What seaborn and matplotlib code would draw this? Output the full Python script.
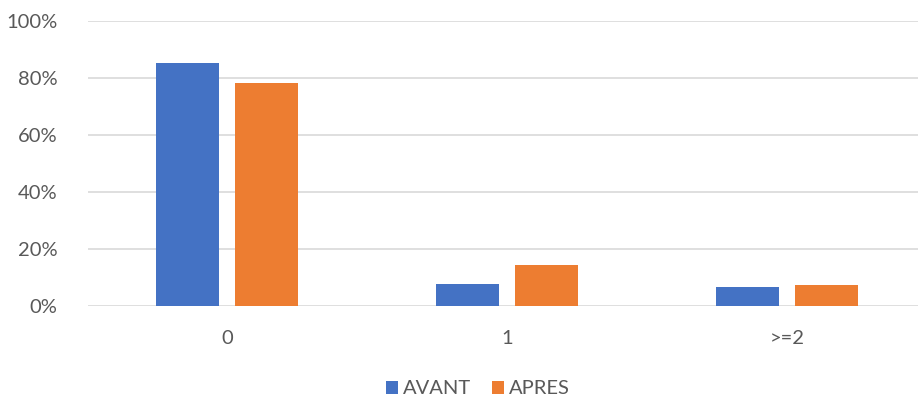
import matplotlib
matplotlib.use("Agg")
import matplotlib.pyplot as plt
import seaborn as sns
import pandas as pd
from matplotlib.ticker import PercentFormatter
from matplotlib.patches import Patch

categories = ["0", "1", ">=2"]
avant = [85.4, 7.7, 6.7]
apres = [78.2, 14.4, 7.2]
series = ["AVANT", "APRES"]
colors = ["#4472C4", "#ED7D31"]

df = pd.DataFrame({
    "cat": categories * 2,
    "val": avant + apres,
    "serie": [series[0]] * 3 + [series[1]] * 3,
})

sns.set_style("white")
plt.rcParams["font.family"] = ["Lato", "DejaVu Sans"]

fig = plt.figure(figsize=(9.2, 4.03), dpi=100)
ax = fig.add_axes([88 / 920, 1 - 306 / 403, 830 / 920, 285 / 403])

sns.barplot(data=df, x="cat", y="val", hue="serie", order=categories,
            hue_order=series, palette=colors, width=0.5638, gap=0.2025,
            ax=ax, legend=False, saturation=1, linewidth=0)

ax.set_xlim(-0.4952, 2.466)
ax.set_ylim(0, 100)
ax.set_yticks([0, 20, 40, 60, 80, 100])
ax.yaxis.set_major_formatter(PercentFormatter(decimals=0))
ax.grid(axis="y", color="#D9D9D9", linewidth=1.2)
ax.set_axisbelow(True)
for s in ax.spines.values():
    s.set_visible(False)
ax.set_xlabel("")
ax.set_ylabel("")
ax.tick_params(axis="both", length=0, labelsize=14.5, labelcolor="#595959")
ax.tick_params(axis="y", pad=22)
ax.tick_params(axis="x", pad=17)

handles = [Patch(facecolor=c, edgecolor="none", label=s) for s, c in zip(series, colors)]
fig.legend(handles=handles, loc="center", bbox_to_anchor=(478 / 920, 1 - 389 / 403),
           ncol=2, frameon=False, fontsize=14.5, labelcolor="#595959",
           handlelength=0.6, handleheight=0.6, handletextpad=0.25, columnspacing=1.0)

fig.savefig("out.png", dpi=100)
